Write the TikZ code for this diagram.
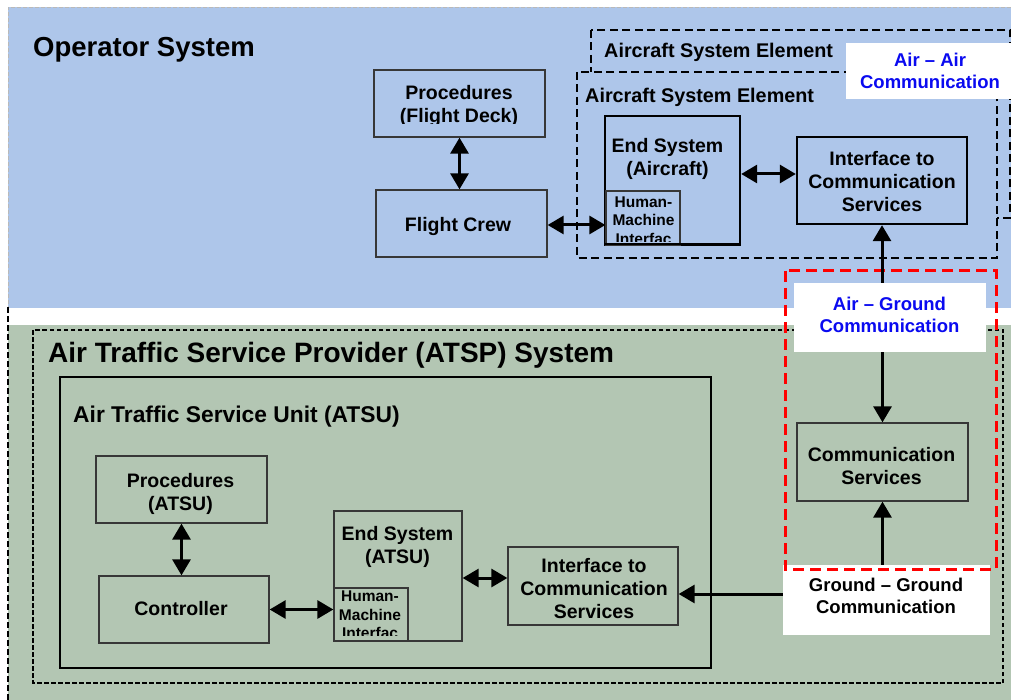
\documentclass[tikz,border=0pt]{standalone}
\usepackage{fontspec}
\setmainfont{Liberation Sans}
\usetikzlibrary{arrows.meta,calc}
\definecolor{opblue}{RGB}{174,198,234}
\definecolor{atgreen}{RGB}{179,198,179}
\definecolor{lblblue}{RGB}{10,10,240}
\definecolor{boxgray}{RGB}{55,55,55}
\begin{document}
\begin{tikzpicture}[x=1pt,y=-1pt,
  box/.style={draw=boxgray, line width=1.3pt, inner sep=0pt},
  thickbox/.style={draw=black, line width=2.4pt, inner sep=0pt},
  txt/.style={font=\bfseries\fontsize{19.5}{23}\selectfont, align=center, inner sep=0pt},
  hmitxt/.style={font=\bfseries\fontsize{15.5}{18.5}\selectfont, align=center, inner sep=0pt},
  lbltxt/.style={font=\bfseries\fontsize{18.5}{22}\selectfont, align=center, inner sep=0pt},
  title/.style={font=\bfseries, inner sep=0pt, anchor=base west},
  lbl/.style={fill=white, draw=none, inner sep=0pt},
  asedash/.style={draw=black, line width=1.7pt, dash pattern=on 8pt off 4.5pt},
  dbl/.style={{Triangle[length=16pt,width=18pt]}-{Triangle[length=16pt,width=18pt]}, line width=3pt},
  one/.style={-{Triangle[length=16pt,width=18pt]}, line width=3pt}
]
\useasboundingbox (0,0) rectangle (1011,700);
\fill[white] (0,0) rectangle (1011,700);

% Operator system region
\fill[opblue] (8,7) rectangle (1011,308);
\draw[gray!55, line width=0.9pt, dash pattern=on 4pt off 2pt] (1011,7) -- (8,7) -- (8,307);
% ATSP region
\fill[atgreen] (8,325) rectangle (1011,700);
\draw[black, line width=1.8pt, dash pattern=on 6pt off 3pt] (8,307) -- (8,700);
\draw[black, line width=1.6pt, dash pattern=on 4.5pt off 2.5pt] (33,330) rectangle (1003,683);
\draw[black, line width=1.3pt] (60,377) rectangle (711,668);

% Aircraft system elements
\draw[asedash] (591,30) rectangle (1010,218);
\filldraw[asedash, fill=opblue] (577,72) rectangle (997,258);
\node[lbl, minimum width=165pt, minimum height=56pt] (aaL) at (928.5,71) {};
\node[lbltxt, text=lblblue] (aaT) at (930,71) {Air -- Air\\Communication};

% titles
\node[title, font=\bfseries\fontsize{27.5}{31}\selectfont] (opT) at (33,57) {Operator System};
\node[title, font=\bfseries\fontsize{28}{32}\selectfont] (atspT) at (48,362) {Air Traffic Service Provider (ATSP) System};
\node[title, font=\bfseries\fontsize{22.8}{26}\selectfont] (atsuT) at (73,422) {Air Traffic Service Unit (ATSU)};
\node[title, font=\bfseries\fontsize{19.8}{23}\selectfont] (ase1T) at (604,58) {Aircraft System Element};
\node[title, font=\bfseries\fontsize{19.8}{23}\selectfont] (ase2T) at (585,103) {Aircraft System Element};

% flight deck side
\node[box, minimum width=171pt, minimum height=67pt] (pfd) at (459.5,103.5) {};
\begin{scope}
  \clip (374,70) rectangle (545,123.5);
  \node[txt] (pfdT) at (459,106.5) {Procedures\\(Flight Deck)};
\end{scope}
\node[box, minimum width=171pt, minimum height=67pt] (fc) at (461.5,223.5) {};
\node[txt] (fcT) at (458,227) {Flight Crew};

\node[thickbox, minimum width=135pt, minimum height=129pt] (esA) at (672.5,180.5) {};
\node[txt] (esAT) at (667.5,158.5) {End System\\(Aircraft)};
\node[box, minimum width=74pt, minimum height=54pt] (hmiA) at (643,218) {};
\begin{scope}
  \clip (606,191) rectangle (680,241.5);
  \node[hmitxt] (hmiAT) at (643.5,220.5) {Human-\\Machine\\Interfac};
\end{scope}
\draw[black, line width=2.4pt] (605,244) -- (740,244);
\node[thickbox, minimum width=170pt, minimum height=87pt] (ifA) at (882,180.5) {};
\node[txt] (ifAT) at (882,182) {Interface to\\Communication\\Services};

% ground side
\node[box, minimum width=171pt, minimum height=78pt] (cs) at (882.5,462) {};
\node[txt] (csT) at (881.5,466) {Communication\\Services};

\node[box, minimum width=171pt, minimum height=67pt] (pa) at (181.5,489.5) {};
\node[txt] (paT) at (180.5,494) {Procedures\\(ATSU)};
\node[box, minimum width=170pt, minimum height=67pt] (ctrl) at (184,609.5) {};
\node[txt] (ctrlT) at (181,608.5) {Controller};
\node[box, minimum width=128pt, minimum height=130pt] (esT) at (398,576) {};
\node[txt] (esTT) at (397.5,547) {End System\\(ATSU)};
\node[box, minimum width=74pt, minimum height=53pt] (hmiT) at (371,614.5) {};
\begin{scope}
  \clip (334,588) rectangle (408,635);
  \node[hmitxt] (hmiTT) at (370,615) {Human-\\Machine\\Interfac};
\end{scope}
\node[box, minimum width=170pt, minimum height=78pt] (ifT) at (593,586) {};
\node[txt] (ifTT) at (594,589) {Interface to\\Communication\\Services};

% communication labels and red zone
\node[lbl, minimum width=207pt, minimum height=70pt] (ggL) at (886.5,600) {};
\node[lbltxt] (ggT) at (886,596) {Ground -- Ground\\Communication};
\draw[red, line width=3pt, dash pattern=on 11pt off 6pt] (785,271) rectangle (996,569);
\node[lbl, minimum width=192pt, minimum height=69pt] (agL) at (890,317.5) {};
\node[lbltxt, text=lblblue] (agT) at (889.5,314.5) {Air -- Ground\\Communication};

% connectors
\draw[dbl] (pfd.south) -- (pfd.south |- fc.north);
\draw[dbl] ([yshift=-1.5pt]fc.east) -- ([yshift=-1.5pt]fc.east -| hmiA.west);
\draw[dbl] ([yshift=6.5pt]esA.east) -- ([yshift=6.5pt]esA.east -| ifA.west);
\draw[one] (agL.north -| ifA.south) -- (ifA.south);
\draw[one] (cs.north |- agL.south) -- (cs.north);
\draw[one] (cs.south |- ggL.north) -- (cs.south);
\draw[one] ([yshift=6pt]ggL.west) -- ([yshift=6pt]ggL.west -| ifT.east);
\draw[dbl] ([yshift=-2pt]esT.east) -- ([yshift=-2pt]esT.east -| ifT.west);
\draw[dbl] (ctrl.east) -- (ctrl.east -| hmiT.west);
\draw[dbl] (pa.south) -- (pa.south |- ctrl.north);
\end{tikzpicture}
\end{document}
